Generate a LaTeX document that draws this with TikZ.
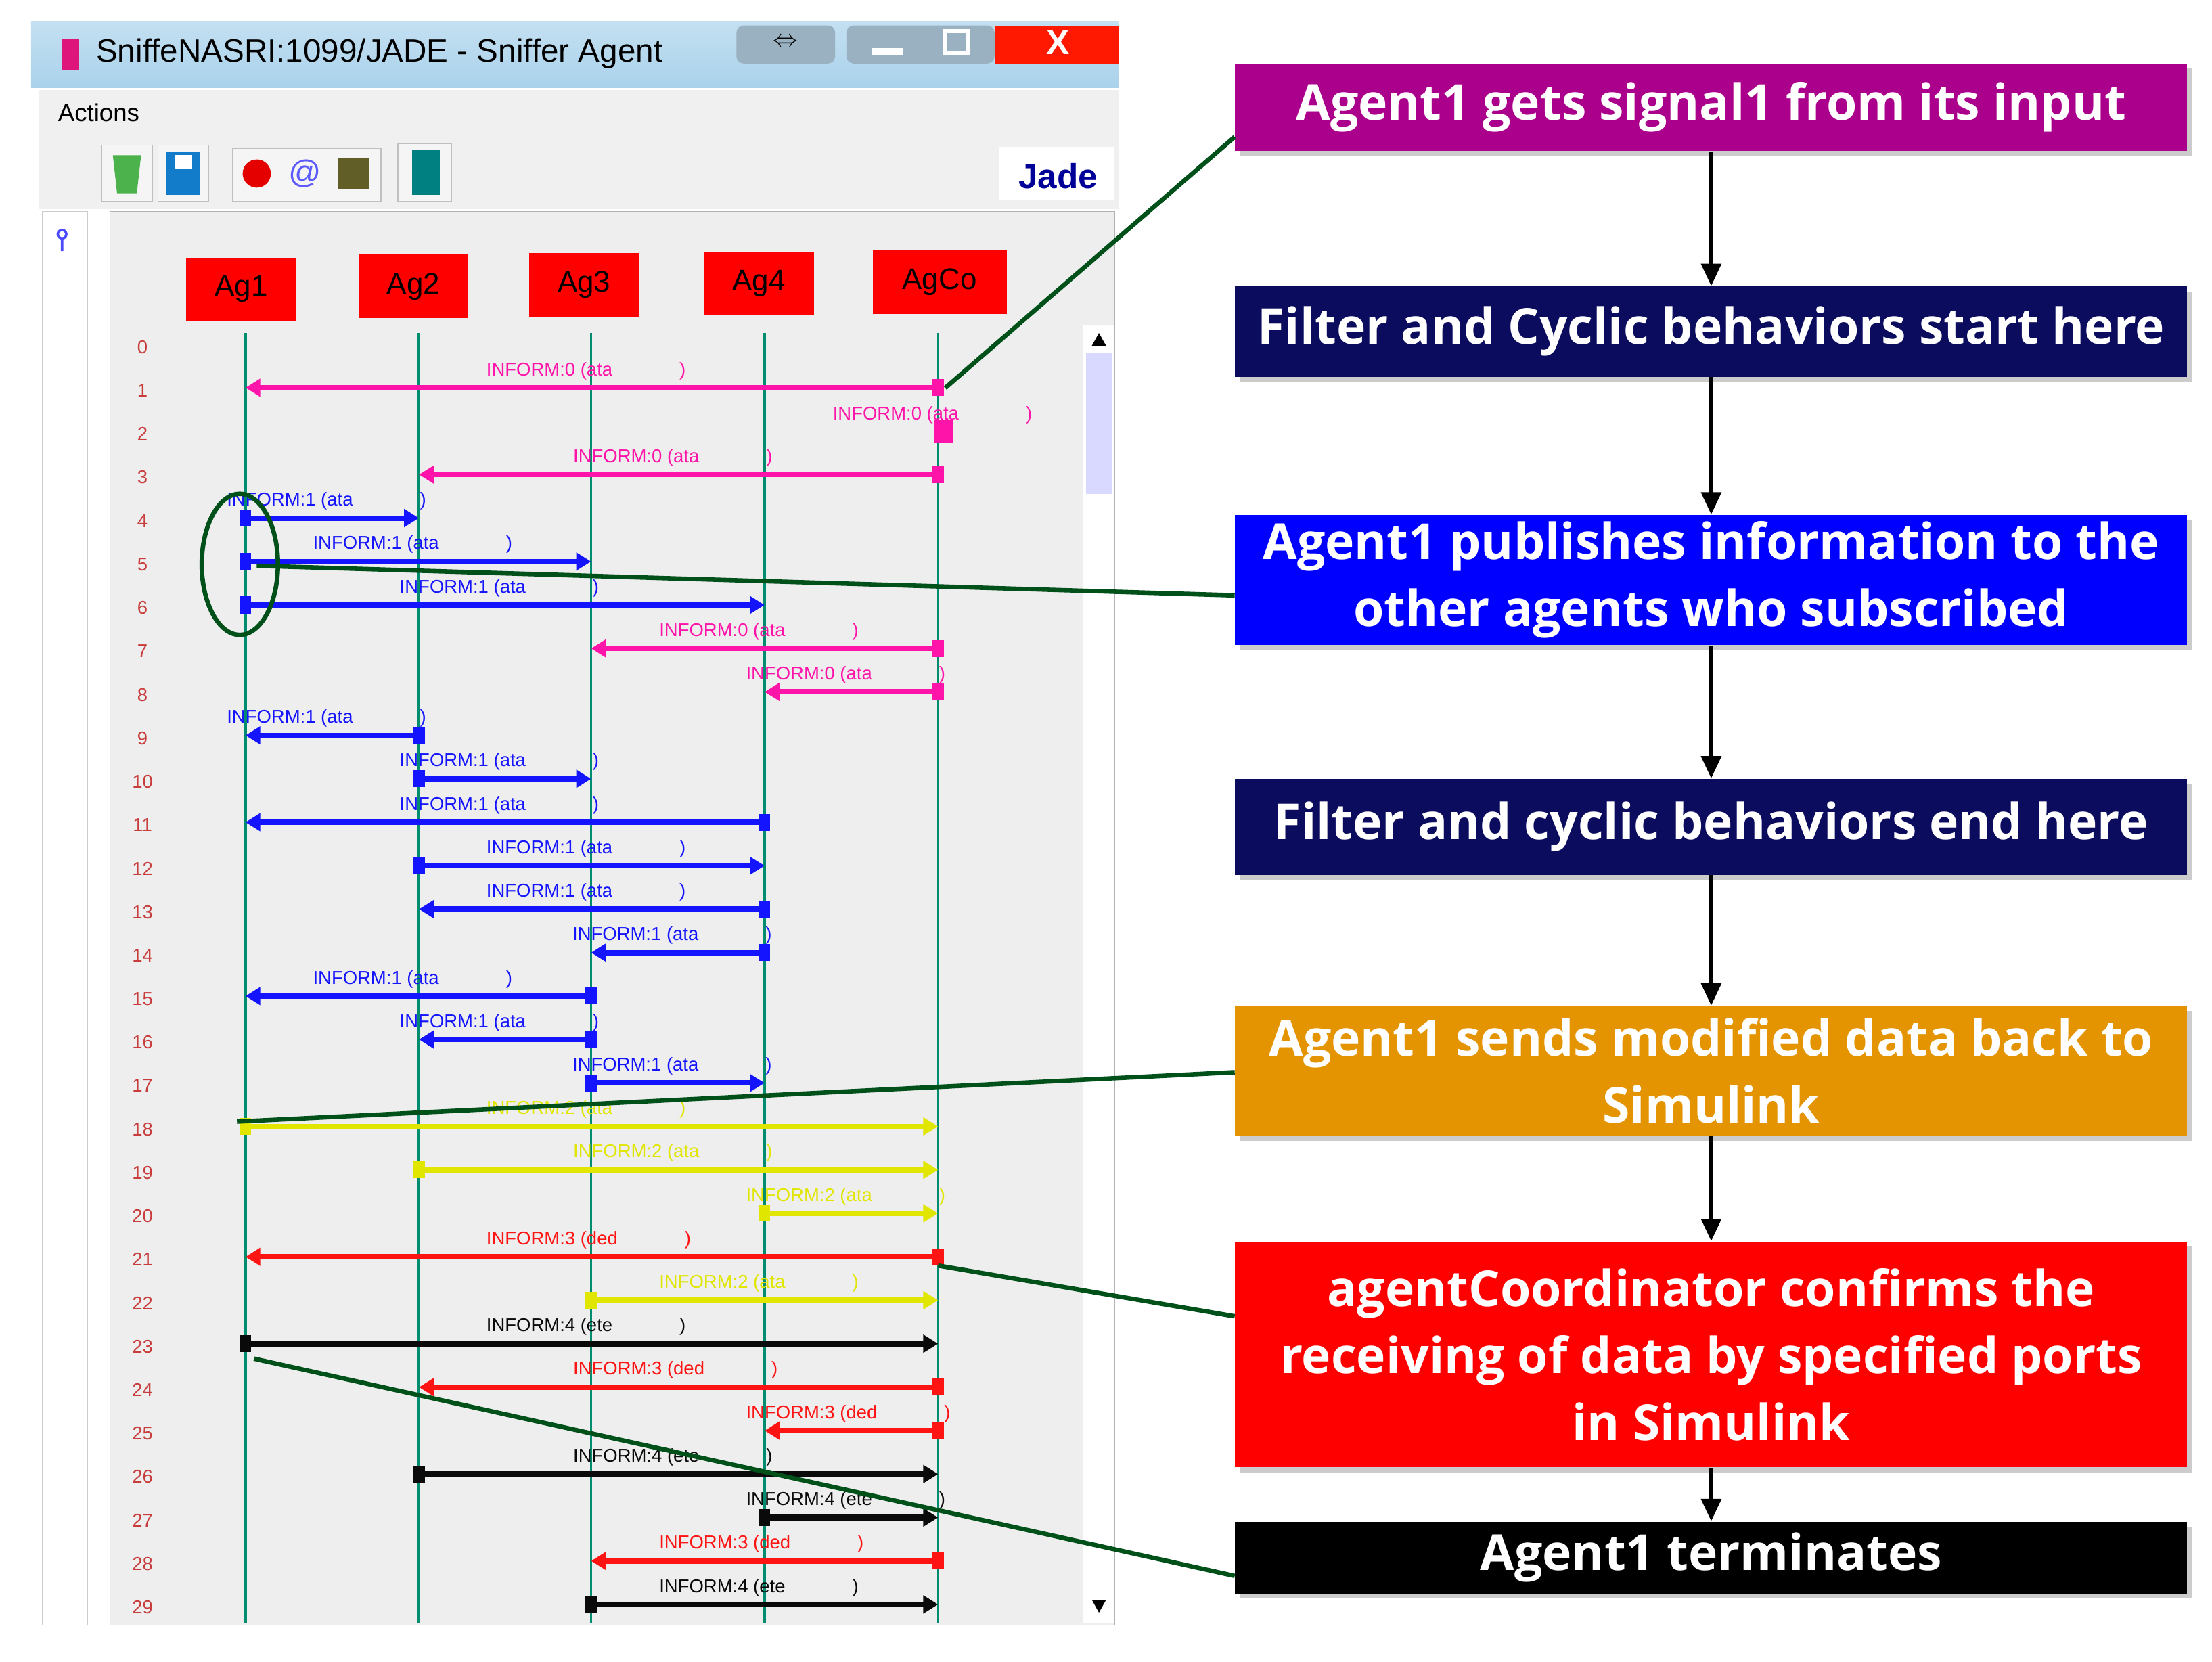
\documentclass[tikz,border=0pt]{standalone}
\usepackage{fontspec}
\setmainfont{Liberation Sans}
\newfontfamily\boxfont{Open Sans}
\usetikzlibrary{arrows.meta,shadows}
\definecolor{mpink}{RGB}{255,20,170}
\definecolor{mblue}{RGB}{20,20,255}
\definecolor{myel}{RGB}{225,230,0}
\definecolor{mred}{RGB}{255,20,20}
\definecolor{mblk}{RGB}{10,10,10}
\definecolor{life}{RGB}{0,140,110}
\definecolor{dgreen}{RGB}{0,80,25}
\definecolor{bpurple}{RGB}{170,0,140}
\definecolor{bnavy}{RGB}{12,12,95}
\definecolor{bblue}{RGB}{0,0,255}
\definecolor{borange}{RGB}{228,148,0}
\definecolor{bred}{RGB}{255,0,0}
\definecolor{panel}{RGB}{238,238,238}
\definecolor{titleb}{RGB}{170,210,235}
\tikzset{
  agent/.style={fill=red,minimum width=1.56cm,minimum height=0.9cm,inner sep=0pt,font=\fontsize{12}{12}\selectfont},
  flow/.style={fill=#1,text=white,font=\boxfont\bfseries\fontsize{20}{27}\selectfont,align=center,
     minimum width=13.5cm,inner sep=0pt,drop shadow={shadow xshift=2pt,shadow yshift=-2pt,opacity=0.4}},
  flarrow/.style={-{Triangle[length=9pt,width=8pt]},line width=1.5pt},
  callout/.style={dgreen,line width=1.8pt},
  msg/.style={line width=2.2pt,-{Triangle[length=6pt,width=7pt]}},
  mlab/.style={font=\fontsize{7.5}{8}\selectfont,anchor=west,inner sep=0pt},
  rownum/.style={font=\fontsize{7.5}{8}\selectfont,text={rgb,255:red,200;green,60;blue,60}}
}
\begin{document}
\begin{tikzpicture}[x=0.02cm,y=-0.02cm]
\useasboundingbox (0,0) rectangle (1568,1178);
% window
\fill[white] (22,15) rectangle (793,1155);
\shade[top color=titleb!70,bottom color=titleb] (22,15) rectangle (793,62);
\node[anchor=west,font=\fontsize{13}{13}\selectfont] (title) at (62,38) {SniffeNASRI:1099/JADE - Sniffer Agent};
\fill[magenta!70!purple] (44,28) rectangle (56,50);
\fill[titleb!60!gray,rounded corners=3pt] (522,18) rectangle (592,45);
\node[font=\bfseries] at (557,30) {$\Leftrightarrow$};
\fill[titleb!60!gray,rounded corners=3pt] (600,18) rectangle (705,45);
\fill[white] (618,34) rectangle (640,39);
\draw[white,line width=1.5pt] (670,22) rectangle (686,38);
\fill[red!80!orange] (705,18) rectangle (793,45);
\node[white,font=\bfseries\fontsize{14}{14}\selectfont] at (750,30) {X};
\fill[gray!12] (28,64) rectangle (793,148);
\node[anchor=west,font=\fontsize{10}{10}\selectfont] (actions) at (35,80) {Actions};
% toolbar icons
\draw[gray!50,fill=gray!8] (72,103) rectangle (108,143);
\fill[green!40!gray] (80,110) -- (100,110) -- (97,137) -- (83,137) -- cycle;
\draw[gray!50,fill=gray!8] (112,103) rectangle (148,143);
\fill[cyan!60!blue] (118,108) rectangle (142,138);
\fill[white] (124,110) rectangle (136,120);
\draw[gray!50,fill=gray!8] (165,105) rectangle (270,143);
\fill[red!90!black] (182,123) circle (10);
\node[mblue!70,font=\fontsize{13}{13}\selectfont] at (216,123) {@};
\fill[olive!60!black] (240,112) rectangle (262,134);
\draw[gray!50,fill=gray!8] (282,102) rectangle (320,143);
\fill[teal] (292,106) rectangle (312,138);
\fill[white] (708,104) rectangle (790,142);
\node[font=\bfseries\fontsize{14}{14}\selectfont,blue!60!black] (jade) at (750,125) {Jade};
% panels
\fill[white] (30,150) rectangle (62,1152);
\draw[gray!40] (30,150) rectangle (62,1152);
\draw[blue!70,line width=1pt] (44,166) circle (3) (44,169) -- (44,178);
\fill[panel] (78,150) rectangle (790,1152);
\draw[gray!60] (78,150) rectangle (790,1152);
\fill[white] (768,230) rectangle (790,1150);
\fill[blue!15] (770,250) rectangle (788,350);
\fill[black] (774,245) -- (784,245) -- (779,236) -- cycle;
\fill[black] (774,1134) -- (784,1134) -- (779,1143) -- cycle;
% agents
\node[agent] (Ag1) at (171,205) {Ag1};
\node[agent] (Ag2) at (293,203) {Ag2};
\node[agent] (Ag3) at (414,202) {Ag3};
\node[agent] (Ag4) at (538,201) {Ag4};
\node[agent,minimum width=1.9cm] (AgCo) at (666,200) {AgCo};
\foreach \a/\x in {Ag1/174,Ag2/297,Ag3/419,Ag4/542,AgCo/665}
  \draw[life,line width=1pt] (\x,236) -- (\x,1150);
\foreach \n in {0,...,29}
  \node[rownum] at (101,{246+30.8*\n}) {\n};
% messages
\foreach \r/\f/\t/\c/\lab in {
 1/665/174/mpink/{INFORM:0 (ata},
 3/665/297/mpink/{INFORM:0 (ata},
 4/174/297/mblue/{INFORM:1 (ata},
 5/174/419/mblue/{INFORM:1 (ata},
 6/174/542/mblue/{INFORM:1 (ata},
 7/665/419/mpink/{INFORM:0 (ata},
 8/665/542/mpink/{INFORM:0 (ata},
 9/297/174/mblue/{INFORM:1 (ata},
 10/297/419/mblue/{INFORM:1 (ata},
 11/542/174/mblue/{INFORM:1 (ata},
 12/297/542/mblue/{INFORM:1 (ata},
 13/542/297/mblue/{INFORM:1 (ata},
 14/542/419/mblue/{INFORM:1 (ata},
 15/419/174/mblue/{INFORM:1 (ata},
 16/419/297/mblue/{INFORM:1 (ata},
 17/419/542/mblue/{INFORM:1 (ata},
 18/174/665/myel/{INFORM:2 (ata},
 19/297/665/myel/{INFORM:2 (ata},
 20/542/665/myel/{INFORM:2 (ata},
 21/665/174/mred/{INFORM:3 (ded},
 22/419/665/myel/{INFORM:2 (ata},
 23/174/665/mblk/{INFORM:4 (ete},
 24/665/297/mred/{INFORM:3 (ded},
 25/665/542/mred/{INFORM:3 (ded},
 26/297/665/mblk/{INFORM:4 (ete},
 27/542/665/mblk/{INFORM:4 (ete},
 28/665/419/mred/{INFORM:3 (ded},
 29/419/665/mblk/{INFORM:4 (ete}}
{
  \pgfmathsetmacro\yy{244+30.8*\r}
  \draw[msg,\c] (\f,\yy) -- (\t,\yy);
  \fill[\c] ({\f-4},{\yy-6}) rectangle ({\f+4},{\yy+6});
  \node[mlab,text=\c] at ({(\f+\t)/2-75},{\yy-12}) {\lab\hspace{0.95cm})};
}
% self message row 2
\fill[mpink] (662,298) rectangle (676,314);
\node[mlab,text=mpink] at (590,294) {INFORM:0 (ata\hspace{0.95cm})};
% flow boxes
\node[flow=bpurple,minimum height=1.24cm] (b1) at (1213,76) {Agent1 gets signal1 from its input};
\node[flow=bnavy,minimum height=1.28cm] (b2) at (1213,235) {Filter and Cyclic behaviors start here};
\node[flow=bblue,minimum height=1.84cm] (b3) at (1213,411) {Agent1 publishes information to the\\other agents who subscribed};
\node[flow=bnavy,minimum height=1.36cm] (b4) at (1213,586) {Filter and cyclic behaviors end here};
\node[flow=borange,minimum height=1.84cm] (b5) at (1213,759) {Agent1 sends modified data back to\\Simulink};
\node[flow=bred,minimum height=3.2cm] (b6) at (1213,960) {agentCoordinator confirms the\\receiving of data by specified ports\\in Simulink};
\node[flow=black,minimum height=1.02cm] (b7) at (1213,1104) {Agent1 terminates};
\foreach \a/\b in {b1/b2,b2/b3,b3/b4,b4/b5,b5/b6,b6/b7}
  \draw[flarrow] (\a.south) -- (\b.north);
% callouts
\coordinate (c1) at (670,275);
\coordinate (c3) at (182,401);
\coordinate (c5) at (168,795);
\coordinate (c6) at (665,897);
\coordinate (c7) at (180,963);
\draw[callout] (b1.west|-0,97) -- (c1);
\draw[callout] (b3.west|-0,422) -- (c3);
\draw[callout] (170,400) ellipse (27 and 50);
\draw[callout] (b5.west|-0,760) -- (c5);
\draw[callout] (b6.west|-0,933) -- (c6);
\draw[callout] (b7.west|-0,1117) -- (c7);
\end{tikzpicture}
\end{document}
